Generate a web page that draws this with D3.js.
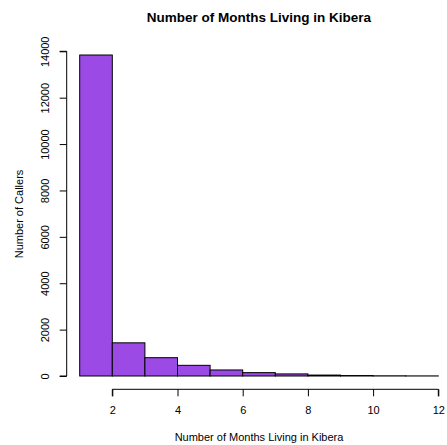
<!DOCTYPE html>
<html><head><meta charset="utf-8">
<script src="https://cdn.jsdelivr.net/npm/d3@7"></script>
<style>body{margin:0;background:#fff}svg{display:block}text{font-family:"Liberation Sans",Arial,sans-serif}</style>
</head><body>
<svg id="c" width="447" height="445"></svg>
<script>
const binStarts = [1,2,3,4,5,6,7,8,9,10,11];
const counts = [13840,1430,790,460,260,145,90,40,20,8,4];
const xTicks = [2,4,6,8,10,12];
const yTicks = [0,2000,4000,6000,8000,10000,12000,14000];
const title = "Number of Months Living in Kibera";
const xLabel = "Number of Months Living in Kibera";
const yLabel = "Number of Callers";

const svg = d3.select("#c");
const x = d3.scaleLinear().domain([1,12]).range([79.7,438.3]);
const y = d3.scaleLinear().domain([0,14000]).range([376,51.3]);

svg.selectAll("rect.bar").data(binStarts).enter().append("rect")
  .attr("class","bar")
  .attr("x", d=>x(d)).attr("width", d=>x(d+1)-x(d))
  .attr("y", (d,i)=>y(counts[i])).attr("height",(d,i)=>y(0)-y(counts[i]))
  .attr("fill","#9b4ae6").attr("stroke","#000").attr("stroke-width",1);

// x axis
const xa = svg.append("g").attr("transform","translate(0,389.3)")
  .call(d3.axisBottom(x).tickValues(xTicks).tickSize(7).tickPadding(8).tickFormat(d3.format("d")));
xa.select(".domain").attr("d",`M${x(2)},7V0H${x(12)}V7`).attr("stroke","#000");
xa.selectAll("text").attr("font-size","11px").attr("fill","#000")
  .attr("y",null).attr("dy",null).attr("transform","translate(0,21)").attr("dominant-baseline","central");

// y axis
const ya = svg.append("g").attr("transform","translate(66.7,0)")
  .call(d3.axisLeft(y).tickValues(yTicks).tickSize(7).tickFormat(d3.format("d")));
ya.select(".domain").attr("d",`M-7,${y(0)}H0V${y(14000)}H-7`).attr("stroke","#000");
ya.selectAll("text").remove();
ya.selectAll(".tick").append("text")
  .attr("transform","translate(-22,0) rotate(-90)")
  .attr("text-anchor","middle").attr("dominant-baseline","central")
  .attr("font-size","11px").attr("fill","#000").text(d=>d);

svg.append("text").attr("x",259).attr("y",22).attr("text-anchor","middle")
  .attr("font-size","13.5px").attr("font-weight","bold").text(title);
svg.append("text").attr("x",259).attr("y",441).attr("text-anchor","middle")
  .attr("font-size","11px").text(xLabel);
svg.append("text").attr("transform","translate(19,214) rotate(-90)").attr("text-anchor","middle")
  .attr("dominant-baseline","central").attr("font-size","11px").text(yLabel);
</script>
</body></html>
